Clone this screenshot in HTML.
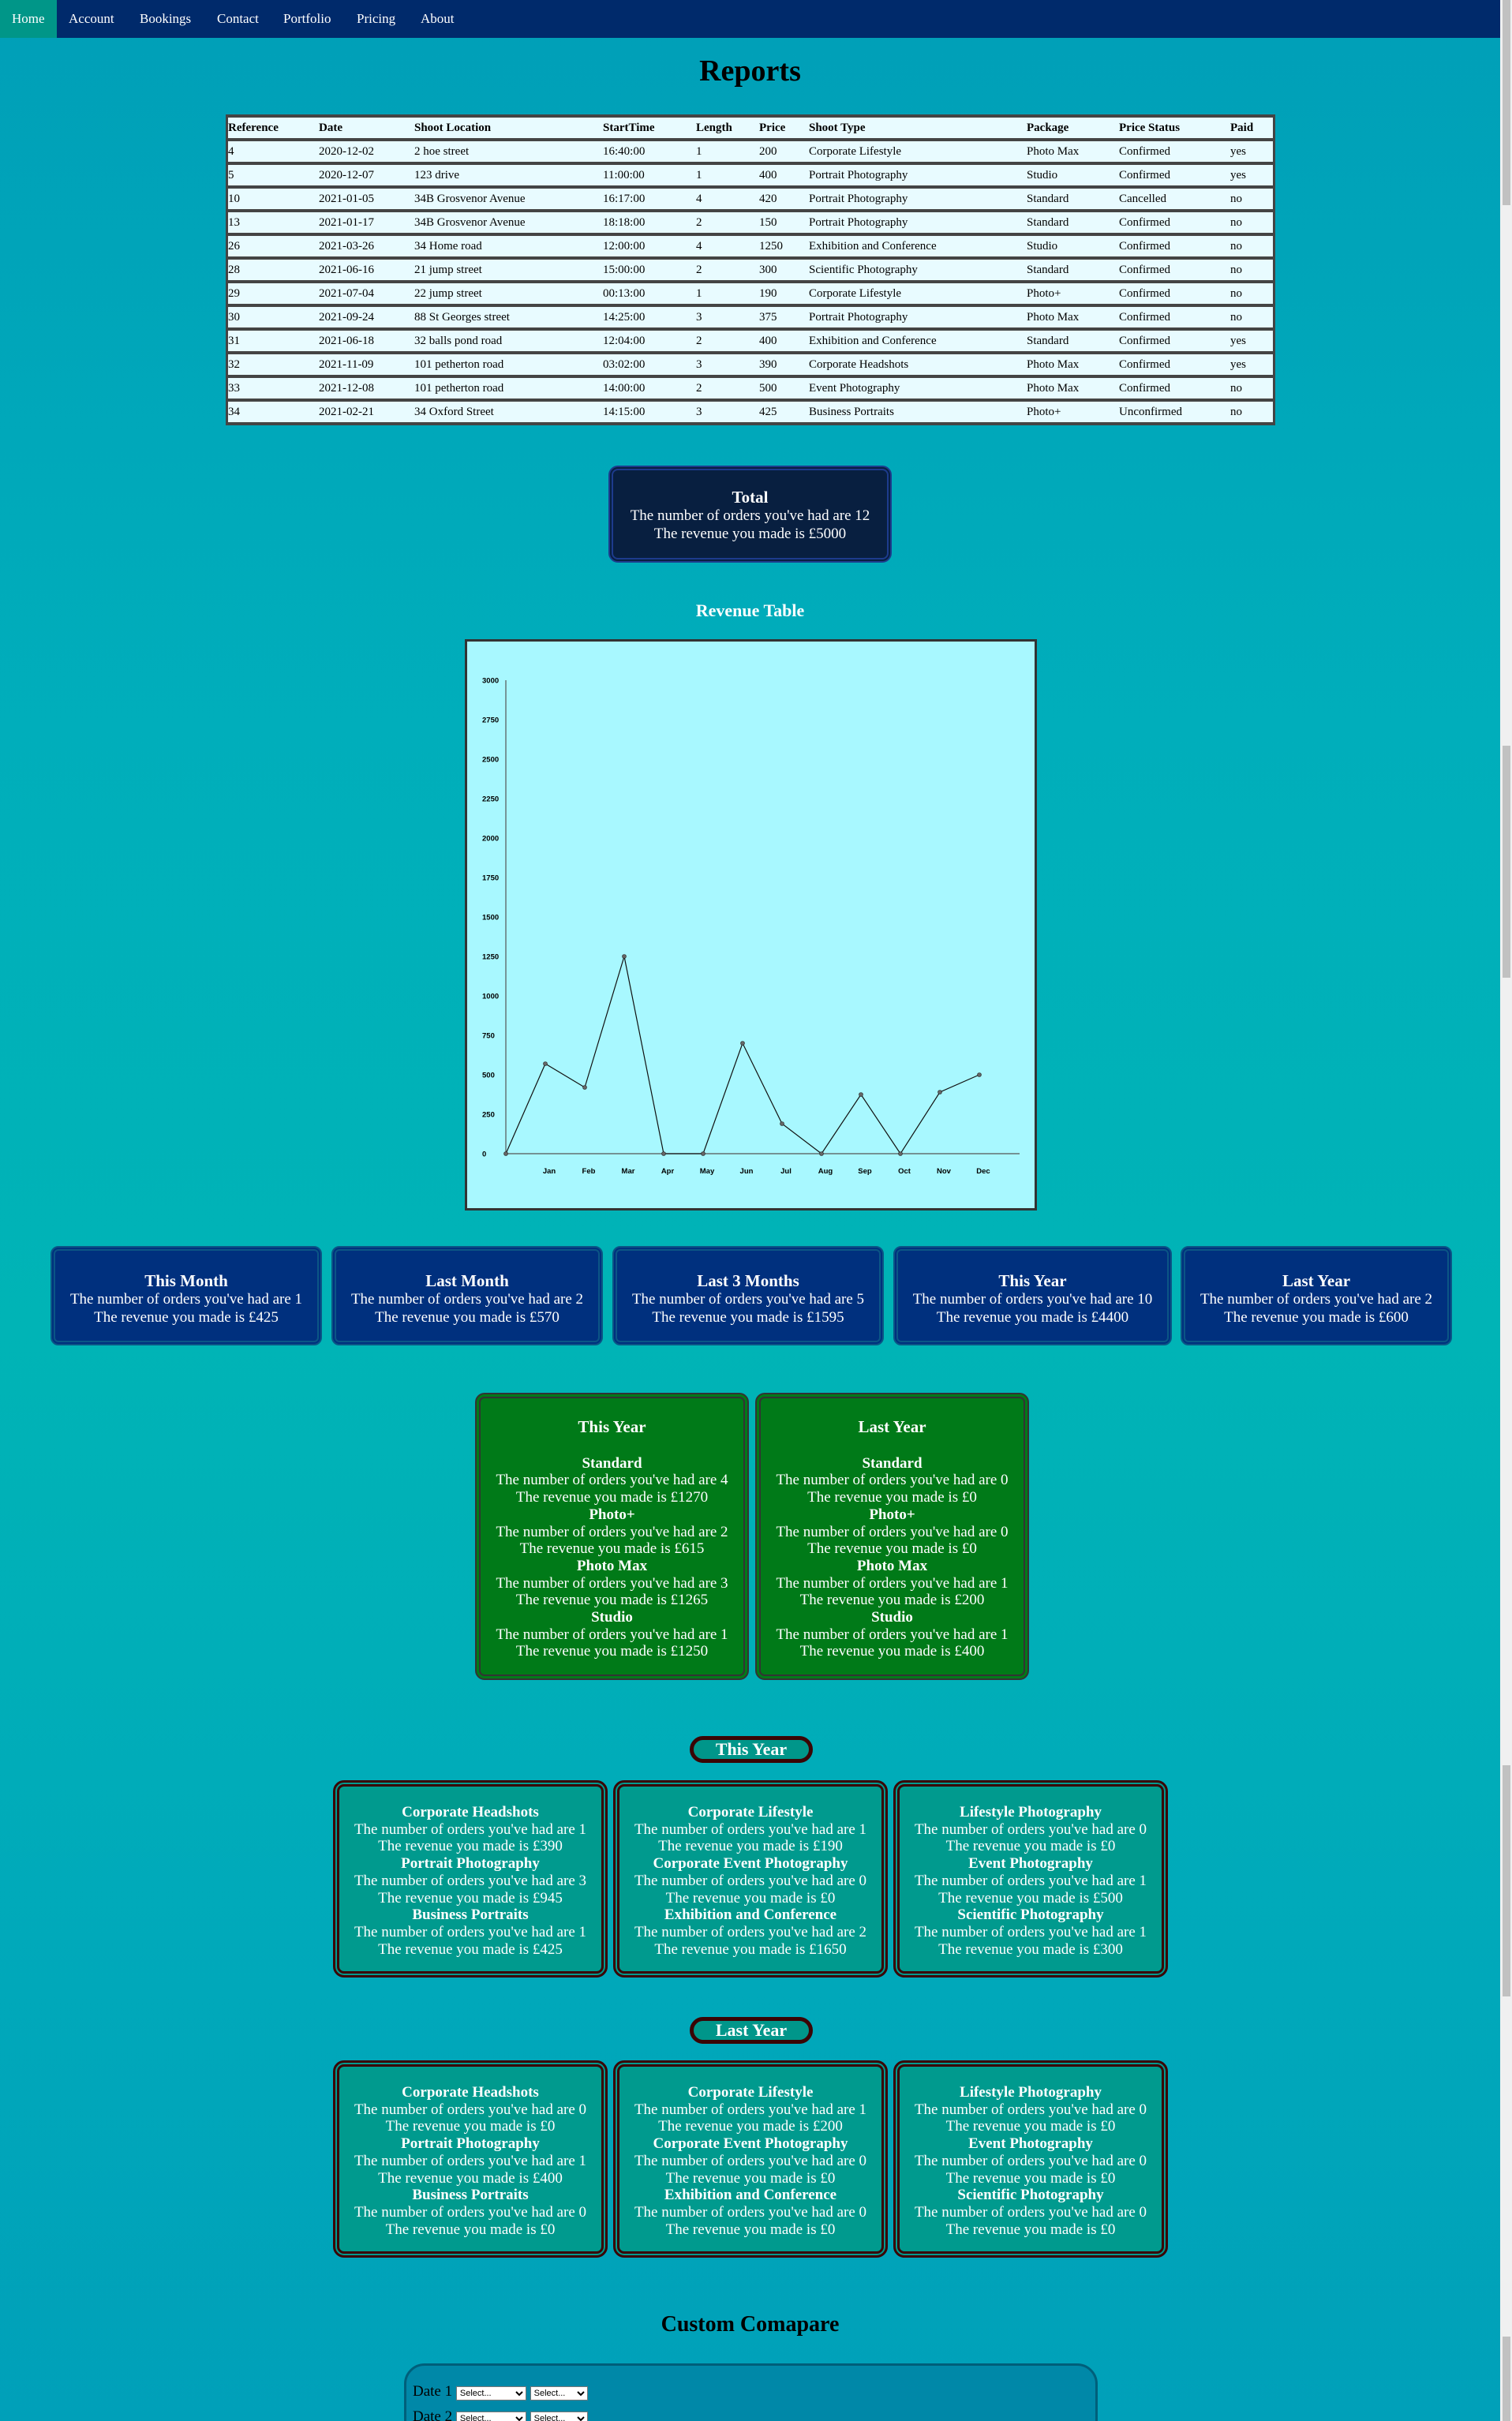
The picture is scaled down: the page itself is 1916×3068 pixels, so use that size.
<!DOCTYPE html>
<html><head><meta charset="utf-8">
<style>
*{box-sizing:border-box;margin:0;padding:0}
html,body{width:1916px;height:3068px;overflow:hidden}
body{position:relative;font-family:"Liberation Serif",serif;background:linear-gradient(180deg,#009fb8 0%,#00aebb 30%,#00b4b6 55%,#00a9ba 80%,#00a0b9 100%);}
.abs{position:absolute}
#nav{left:0;top:0;width:1901px;height:48px;background:#002a6b}
.nav-item{position:absolute;top:0;height:48px;line-height:48px;font-size:17px;color:#fff}
#scroll{left:1901px;top:0;width:15px;height:3068px;background:#f0f0f0}
.thumb{position:absolute;left:3px;width:10px;background:#c1c1c1}
h1{position:absolute;left:0;width:1901px;text-align:center;font-size:38px;font-weight:bold;color:#000}
#tbl{left:286px;top:145px;width:1330px;background:#444;padding:4px 3px}
.row{position:relative;height:26px;background:#e8fbff;margin-bottom:4px;font-size:15px;line-height:26px;color:#000}
.row:last-child{margin-bottom:0}
.row span{position:absolute;top:0;white-space:nowrap}
.row.h span{font-weight:bold}
.box{position:absolute;text-align:center;color:#fff}
.total{left:771px;top:590px;width:359px;height:123px;background:#081f40;border:6px double #1d3b8c;border-radius:12px;font-size:19px;line-height:23px;padding-top:23px}
.bt{font-weight:bold;font-size:21px}
.blue{top:1579px;width:344px;height:126px;background:#00307e;border:6px double #0b5585;border-radius:10px;font-size:19px;line-height:23px;padding-top:27px}
.green{top:1765px;width:347px;height:364px;background:#007a18;border:7px double #333;border-radius:12px;font-size:19px;line-height:21.7px;padding-top:26px}
.cat{width:348px;height:250px;background:#009a8e;border:8px double #3a0505;border-radius:14px;font-size:19px;line-height:21.7px;padding-top:22px}
.pill{position:absolute;left:874px;width:156px;height:34px;border:5px solid #3a0505;border-radius:17px;background:#00968a;color:#fff;text-align:center;font-weight:bold;font-size:22px;line-height:24px}
b{font-weight:bold}
select{font-family:"Liberation Sans",sans-serif;font-size:11px;height:18px;background:#fff;border:1px solid #777}
</style></head>
<body>
<div id="nav" class="abs">
  <div class="nav-item" style="left:0;width:72px;background:#009688;padding-left:15px">Home</div>
  <div class="nav-item" style="left:87px">Account</div>
  <div class="nav-item" style="left:177px">Bookings</div>
  <div class="nav-item" style="left:275px">Contact</div>
  <div class="nav-item" style="left:359px">Portfolio</div>
  <div class="nav-item" style="left:452px">Pricing</div>
  <div class="nav-item" style="left:533px">About</div>
</div>
<div id="scroll" class="abs">
  <div class="thumb" style="top:0;height:260px"></div>
  <div class="thumb" style="top:945px;height:294px"></div>
  <div class="thumb" style="top:2237px;height:293px"></div>
  <div class="thumb" style="top:2961px;height:107px"></div>
</div>

<h1 style="top:68px">Reports</h1>

<div id="tbl" class="abs"></div>

<div class="box total"><div class="bt">Total</div>The number of orders you've had are 12<br>The revenue you made is £5000</div>

<div class="abs" style="left:0;width:1901px;top:761px;text-align:center;color:#fff;font-weight:bold;font-size:22px">Revenue Table</div>

<svg id="chart" class="abs" style="left:589px;top:810px" width="725" height="724"></svg>

<div class="box blue" style="left:64px"><div class="bt">This Month</div>The number of orders you've had are 1<br>The revenue you made is £425</div>
<div class="box blue" style="left:420px"><div class="bt">Last Month</div>The number of orders you've had are 2<br>The revenue you made is £570</div>
<div class="box blue" style="left:776px"><div class="bt">Last 3 Months</div>The number of orders you've had are 5<br>The revenue you made is £1595</div>
<div class="box blue" style="left:1132px;width:353px"><div class="bt">This Year</div>The number of orders you've had are 10<br>The revenue you made is £4400</div>
<div class="box blue" style="left:1496px"><div class="bt">Last Year</div>The number of orders you've had are 2<br>The revenue you made is £600</div>

<div class="box green" style="left:602px"><div class="bt" style="margin-bottom:24px">This Year</div><b>Standard</b><br>The number of orders you've had are 4<br>The revenue you made is £1270<br><b>Photo+</b><br>The number of orders you've had are 2<br>The revenue you made is £615<br><b>Photo Max</b><br>The number of orders you've had are 3<br>The revenue you made is £1265<br><b>Studio</b><br>The number of orders you've had are 1<br>The revenue you made is £1250</div>
<div class="box green" style="left:957px"><div class="bt" style="margin-bottom:24px">Last Year</div><b>Standard</b><br>The number of orders you've had are 0<br>The revenue you made is £0<br><b>Photo+</b><br>The number of orders you've had are 0<br>The revenue you made is £0<br><b>Photo Max</b><br>The number of orders you've had are 1<br>The revenue you made is £200<br><b>Studio</b><br>The number of orders you've had are 1<br>The revenue you made is £400</div>

<div class="pill" style="top:2200px">This Year</div>
<div class="box cat" style="left:422px;top:2256px"><b>Corporate Headshots</b><br>The number of orders you've had are 1<br>The revenue you made is £390<br><b>Portrait Photography</b><br>The number of orders you've had are 3<br>The revenue you made is £945<br><b>Business Portraits</b><br>The number of orders you've had are 1<br>The revenue you made is £425</div>
<div class="box cat" style="left:777px;top:2256px"><b>Corporate Lifestyle</b><br>The number of orders you've had are 1<br>The revenue you made is £190<br><b>Corporate Event Photography</b><br>The number of orders you've had are 0<br>The revenue you made is £0<br><b>Exhibition and Conference</b><br>The number of orders you've had are 2<br>The revenue you made is £1650</div>
<div class="box cat" style="left:1132px;top:2256px"><b>Lifestyle Photography</b><br>The number of orders you've had are 0<br>The revenue you made is £0<br><b>Event Photography</b><br>The number of orders you've had are 1<br>The revenue you made is £500<br><b>Scientific Photography</b><br>The number of orders you've had are 1<br>The revenue you made is £300</div>

<div class="pill" style="top:2556px">Last Year</div>
<div class="box cat" style="left:422px;top:2611px"><b>Corporate Headshots</b><br>The number of orders you've had are 0<br>The revenue you made is £0<br><b>Portrait Photography</b><br>The number of orders you've had are 1<br>The revenue you made is £400<br><b>Business Portraits</b><br>The number of orders you've had are 0<br>The revenue you made is £0</div>
<div class="box cat" style="left:777px;top:2611px"><b>Corporate Lifestyle</b><br>The number of orders you've had are 1<br>The revenue you made is £200<br><b>Corporate Event Photography</b><br>The number of orders you've had are 0<br>The revenue you made is £0<br><b>Exhibition and Conference</b><br>The number of orders you've had are 0<br>The revenue you made is £0</div>
<div class="box cat" style="left:1132px;top:2611px"><b>Lifestyle Photography</b><br>The number of orders you've had are 0<br>The revenue you made is £0<br><b>Event Photography</b><br>The number of orders you've had are 0<br>The revenue you made is £0<br><b>Scientific Photography</b><br>The number of orders you've had are 0<br>The revenue you made is £0</div>

<div class="abs" style="left:0;width:1901px;top:2930px;text-align:center;font-weight:bold;font-size:28px;color:#000">Custom Comapare</div>
<div class="abs" style="left:512px;top:2995px;width:879px;height:140px;background:#0088a8;border:3px solid #005f7a;border-radius:26px">
  <div class="abs" style="left:8px;top:22px;font-size:19px;color:#000;white-space:nowrap">Date 1 <select style="width:89px"><option>Select...</option></select> <select style="width:73px"><option>Select...</option></select></div>
  <div class="abs" style="left:8px;top:54px;font-size:19px;color:#000;white-space:nowrap">Date 2 <select style="width:89px"><option>Select...</option></select> <select style="width:73px"><option>Select...</option></select></div>
</div>

<script>
// table
var headers=["Reference","Date","Shoot Location","StartTime","Length","Price","Shoot Type","Package","Price Status","Paid"];
var rows=[
["4","2020-12-02","2 hoe street","16:40:00","1","200","Corporate Lifestyle","Photo Max","Confirmed","yes"],
["5","2020-12-07","123 drive","11:00:00","1","400","Portrait Photography","Studio","Confirmed","yes"],
["10","2021-01-05","34B Grosvenor Avenue","16:17:00","4","420","Portrait Photography","Standard","Cancelled","no"],
["13","2021-01-17","34B Grosvenor Avenue","18:18:00","2","150","Portrait Photography","Standard","Confirmed","no"],
["26","2021-03-26","34 Home road","12:00:00","4","1250","Exhibition and Conference","Studio","Confirmed","no"],
["28","2021-06-16","21 jump street","15:00:00","2","300","Scientific Photography","Standard","Confirmed","no"],
["29","2021-07-04","22 jump street","00:13:00","1","190","Corporate Lifestyle","Photo+","Confirmed","no"],
["30","2021-09-24","88 St Georges street","14:25:00","3","375","Portrait Photography","Photo Max","Confirmed","no"],
["31","2021-06-18","32 balls pond road","12:04:00","2","400","Exhibition and Conference","Standard","Confirmed","yes"],
["32","2021-11-09","101 petherton road","03:02:00","3","390","Corporate Headshots","Photo Max","Confirmed","yes"],
["33","2021-12-08","101 petherton road","14:00:00","2","500","Event Photography","Photo Max","Confirmed","no"],
["34","2021-02-21","34 Oxford Street","14:15:00","3","425","Business Portraits","Photo+","Unconfirmed","no"]];
var colX=[0,115,236,475,593,673,736,1012,1129,1270];
var tbl=document.getElementById('tbl');
function mkRow(cells,isH){
  var r=document.createElement('div');r.className='row'+(isH?' h':'');
  
  
  cells.forEach(function(c,i){var s=document.createElement('span');s.style.left=colX[i]+'px';s.textContent=c;r.appendChild(s);});
  tbl.appendChild(r);
}
mkRow(headers,true);
rows.forEach(function(r){mkRow(r,false);});

// chart
var months=["Jan","Feb","Mar","Apr","May","Jun","Jul","Aug","Sep","Oct","Nov","Dec"];
var revenue=[570,420,1250,0,0,700,190,0,375,0,390,500];
var yTicks=[0,250,500,750,1000,1250,1500,1750,2000,2250,2500,2750,3000];
var NS='http://www.w3.org/2000/svg';
var svg=document.getElementById('chart');
var X0=52,Y0=652,YTOP=52,XEND=703,STEP=50,YMAX=3000;
function xs(i){return X0+(i+1)*STEP;}
function ys(v){return Y0-(v/YMAX)*(Y0-YTOP);}
function el(t,a){var e=document.createElementNS(NS,t);for(var k in a)e.setAttribute(k,a[k]);svg.appendChild(e);return e;}
var bg=el('rect',{x:1.5,y:1.5,width:722,height:721,fill:'#a8f8ff',stroke:'#333',"stroke-width":3});


var ya=el('line',{x1:X0,y1:YTOP,x2:X0,y2:Y0,stroke:'#555',"stroke-width":1.2});


var xa=el('line',{x1:X0,y1:Y0,x2:XEND,y2:Y0,stroke:'#555',"stroke-width":1.2});


yTicks.forEach(function(v){
  var t=el('text',{x:22,y:ys(v)+3.5,"font-family":"Liberation Sans, sans-serif","font-size":"9.5","font-weight":"bold",fill:'#000'});
  t.textContent=v;
  
  
});
months.forEach(function(m,i){
  var t=el('text',{x:xs(i)+5,y:677,"text-anchor":"middle","font-family":"Liberation Sans, sans-serif","font-size":"9.5","font-weight":"bold",fill:'#000'});
  t.textContent=m;
  
  
});
var pts=[[X0,ys(0)]];
revenue.forEach(function(v,i){pts.push([xs(i),ys(v)]);});
var line=el('polyline',{points:pts.map(function(p){return p.join(',');}).join(' '),fill:'none',stroke:'#111',"stroke-width":1.2});


pts.forEach(function(p){
  var c=el('circle',{cx:p[0],cy:p[1],r:2.5,fill:'#666',stroke:'#222',"stroke-width":0.6});
  
  
});
</script>
</body></html>
